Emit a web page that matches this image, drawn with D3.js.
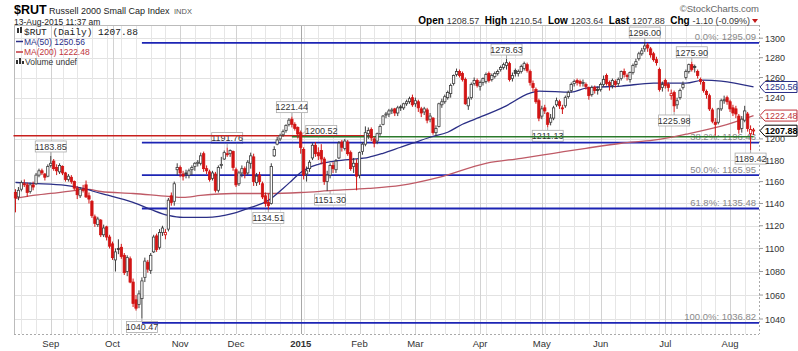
<!DOCTYPE html>
<head>
  <meta charset="utf-8">
  <script src="https://cdn.jsdelivr.net/npm/d3@7"></script>
  <style>
    body { margin: 0; background: #fff; font-family: Arial, "Liberation Sans", sans-serif; }
    svg { display: block; }
    .grid line { shape-rendering: crispEdges; }
  </style>
</head>
<body>
<div id="chart"></div>
<script>

// trading calendar
var firstDay = "2014-08-14", lastDay = "2015-08-13";
var holidays = ["2014-09-01","2014-11-27","2014-12-25","2015-01-01","2015-01-19",
                "2015-02-16","2015-04-03","2015-05-25","2015-07-03"];

// daily candles, one line per month (Aug 14 2014 .. Aug 13 2015)
var opens = [
  1150,1146,1153,1158,1157,1151,1157,1158,1166,1170,1167,1165,
  1175,1179,1173,1169,1174,1168,1162,1164,1160,1154,1147,1153,1157,1147,1142,1128,1121,1125,1112,1119,1110,
  1104,1090,1100,1101,1094,1080,1091,1071,1056,1052,1057,1075,1088,1081,1097,1111,1101,1114,1112,1117,1147,1142,1171,
  1173,1167,1168,1166,1171,1174,1177,1177,1186,1172,1169,1163,1167,1152,1175,1181,1186,1186,1188,
  1171,1158,1168,1172,1168,1177,1183,1159,1166,1158,1147,1141,1140,1184,1195,1200,1204,1208,1214,1219,1214,1211,
  1206,1190,1167,1172,1182,1194,1187,1189,1181,1160,1166,1175,1171,1182,1197,1191,1197,1187,1174,1177,
  1166,1188,1195,1205,1209,1200,1198,1205,1214,1223,1224,1227,1229,1225,1231,1230,1234,1236,1240,
  1234,1236,1229,1226,1228,1219,1220,1206,1212,1233,1236,1240,1244,1254,1263,1266,1264,1258,1232,1240,1254,1257,
  1251,1255,1256,1264,1258,1261,1264,1268,1270,1272,1274,1259,1267,1264,1266,1269,1273,1266,1254,1248,1237,
  1222,1230,1225,1216,1220,1233,1236,1230,1232,1241,1247,1254,1257,1256,1254,1253,1250,1243,1250,1248,
  1248,1253,1262,1255,1252,1256,1254,1259,1266,1262,1258,1265,1273,1279,1284,1289,1293,1289,1284,1278,1268,1250,
  1257,1253,1242,1245,1233,1240,1250,1260,1266,1273,1271,1266,1258,1255,1246,1242,1228,1216,1216,1229,1237,1240,
  1236,1230,1229,1222,1210,1218,1224,1205,1208.57
];
var highs = [
  1153,1155,1161,1162,1159,1159,1160,1168,1172,1172,1168,1176,
  1183.85,1181,1176,1177,1175,1169,1167,1166,1161,1156,1155,1157,1161,1150,1143,1130,1128,1126,1121,1120,1112,
  1106,1100,1108,1104,1096,1094,1093,1074,1060,1064,1075,1092,1090,1096,1112,1113,1117,1120,1117,1145,1150,1160,1177,
  1175,1170,1171,1172,1175,1178,1180,1187,1188,1175,1171,1170,1169,1175,1183,1189,1191.76,1190,1189,
  1173,1170,1175,1174,1180,1187,1186,1168,1169,1160,1150,1149,1177,1193,1202,1205,1209,1214,1220,1221.44,1216,1212,
  1208,1192,1174,1180,1196,1197,1192,1195,1183,1170,1177,1178,1181,1198,1199,1200,1199,1189,1182,1181,
  1188,1197,1212,1211,1211,1202,1206,1214,1223,1226,1229,1230,1230,1232,1233,1235,1238,1241,1243,
  1240,1238,1231,1231,1230,1225,1221,1213,1235,1239,1243,1247,1254,1263,1269,1268,1266,1260,1241,1255,1260,1259,
  1257,1260,1265,1266,1264,1266,1268,1272,1275,1278.63,1276,1265,1269,1268,1273,1276,1275,1268,1257,1250,1239,
  1232,1233,1226,1224,1232,1240,1238,1233,1242,1247,1255,1258,1259,1258,1258,1255,1251,1252,1252,1251,
  1255,1262,1264,1257,1259,1258,1260,1267,1269,1264,1266,1274,1279,1286,1290,1296,1295,1291,1286,1281,1270,1256,
  1259,1255,1248,1247,1240,1249,1256,1268,1274,1275.9,1273,1268,1260,1257,1248,1244,1230,1220,1230,1239,1242,1242,
  1238,1233,1232,1224,1222,1232,1226,1213,1210.54
];
var lows = [
  1132,1143,1151,1155,1146,1149,1152,1157,1164,1166,1161,1164,
  1173,1170,1166,1167,1166,1160,1160,1158,1152,1144,1145,1150,1145,1140,1127,1119,1119,1110,1110,1107,1100,
  1090,1080,1095,1091,1077,1076,1070,1050,1047,1049,1040.47,1071,1079,1078,1096,1097,1099,1111,1108,1115,1138,1138,1166,
  1164,1161,1163,1163,1166,1170,1174,1175,1169,1167,1160,1161,1150,1150,1172,1180,1183,1183,1170,
  1155,1156,1164,1163,1166,1172,1156,1156,1157,1144,1137,1134.51,1139,1183,1194,1198,1202,1206,1212,1211,1208,1200.52,
  1186,1162,1160,1169,1180,1183,1180,1176,1157,1151.3,1163,1168,1168,1181,1188,1189,1184,1170,1168,1152,
  1163,1185,1193,1200,1198,1192,1195,1203,1213,1220,1221,1224,1222,1222,1227,1228,1232,1234,1231,
  1231,1226,1221,1223,1215,1216,1204,1203,1211,1230,1234,1238,1240,1252,1261,1260,1256,1233,1228,1238,1252,1250,
  1247,1252,1254,1255,1256,1259,1262,1266,1268,1268,1256,1256,1261,1261,1264,1267,1265,1252,1246,1234,1217,
  1219,1224,1211.13,1213,1218,1231,1229,1224,1230,1239,1245,1251,1252,1251,1251,1248,1238,1241,1244,1243,
  1246,1251,1252,1247,1249,1250,1251,1257,1260,1257,1255,1263,1270,1277,1282,1286,1286,1280,1276,1272,1246,1246,
  1249,1246,1238,1225.98,1229,1238,1248,1258,1264,1266,1265,1259,1253,1245,1239,1227,1215,1203,1214,1227,1234,1233,
  1226,1222,1220,1205,1206,1216,1207,1189.42,1203.64
];
var closes = [
  1145,1152,1159,1158,1150,1157,1155,1166,1170,1168,1164,1174,
  1177,1172,1170,1175,1168,1162,1165,1160,1154,1148,1153,1152,1146,1144,1129,1122,1126,1112,1118,1110,1102,
  1092,1097,1099,1093,1079,1092,1071,1053,1049,1061,1072,1089,1082,1094,1110,1099,1114,1118,1114,1143,1141,1158,1173,
  1168,1165,1167,1170,1173,1177,1178,1184,1172,1170,1162,1168,1152,1173,1176,1187,1185,1189,1173,
  1157,1168,1172,1167,1178,1184,1160,1165,1160,1146,1140,1138,1174,1190,1199,1203,1207,1213,1218,1214,1210,1204.7,
  1192,1166,1170,1178,1194,1186,1184,1181,1160,1166,1175,1172,1179,1196,1192,1198,1186,1172,1177,1165,
  1187,1195,1206,1208,1201,1196,1205,1212,1222,1224,1227,1228,1225,1230,1230,1234,1236,1239,1233,
  1237,1230,1225,1229,1218,1222,1206,1210,1234,1236,1241,1245,1252,1262,1266,1262,1258,1234,1239,1253,1257,1252,
  1255,1259,1263,1257,1262,1264,1266,1270,1273,1275,1258,1262,1264,1266,1271,1274,1267,1255,1250,1236,1220,
  1229,1227,1214,1220,1230,1237,1232,1229,1240,1245,1253,1256,1255,1254,1255,1251,1242,1250,1247,1247,
  1253,1258,1254,1252,1257,1253,1258,1266,1263,1261,1265,1272,1276,1284,1287,1292,1290,1283,1278,1275,1248,1253,
  1252,1250,1244,1232,1237,1247,1253,1266,1273,1268,1270,1262,1256,1247,1243,1229,1217,1214,1229,1237,1238,1236,
  1229,1225,1224,1209,1219,1227,1210,1208.98,1207.88
];

// moving averages
var ma50 = [
  ["2014-08-14",1159.2],["2014-08-22",1158.3],["2014-09-09",1156.5],["2014-09-17",1153.7],
  ["2014-09-25",1149.1],["2014-09-30",1147.1],["2014-10-10",1141.0],["2014-10-20",1134.6],
  ["2014-10-28",1129.2],["2014-11-04",1127.4],["2014-11-14",1127.4],["2014-11-28",1131.0],
  ["2014-12-08",1136.4],["2014-12-16",1142.8],["2014-12-23",1153.7],["2014-12-29",1161.0],
  ["2015-01-02",1168.5],["2015-01-12",1176.0],["2015-01-20",1178.8],["2015-01-28",1180.7],
  ["2015-02-05",1182.6],["2015-02-12",1186.4],["2015-02-23",1192.1],["2015-02-27",1195.9],
  ["2015-03-09",1201.6],["2015-03-17",1206.4],["2015-03-24",1214.1],["2015-04-01",1220.9],
  ["2015-04-14",1230.7],["2015-04-27",1244.5],["2015-04-30",1246.5],["2015-05-15",1245.5],
  ["2015-05-22",1249.5],["2015-06-10",1251.5],["2015-06-25",1254.4],["2015-07-13",1254.4],
  ["2015-07-21",1257.4],["2015-07-29",1256.4],["2015-08-13",1250.56]
];
var ma200 = [
  ["2014-08-14",1144.6],["2014-08-22",1147.3],["2014-09-02",1149.1],["2014-09-15",1151.9],
  ["2014-09-19",1152.8],["2014-09-25",1150.9],["2014-10-10",1149.1],["2014-10-28",1146.4],
  ["2014-11-04",1145.5],["2014-11-12",1147.3],["2014-11-28",1149.1],["2014-12-16",1149.1],
  ["2015-01-02",1150.0],["2015-01-20",1151.9],["2015-02-05",1153.7],["2015-02-23",1156.5],
  ["2015-03-12",1163.9],["2015-04-06",1177.0],["2015-04-22",1181.7],["2015-05-07",1186.4],
  ["2015-05-22",1191.1],["2015-06-10",1195.9],["2015-06-25",1198.8],["2015-07-13",1204.5],
  ["2015-07-29",1212.2],["2015-08-13",1222.48]
];

// fibonacci retracement from the Oct low
var fibPcts = ["0.0", "38.2", "50.0", "61.8", "100.0"];
var fibValues = [1295.09, 1196.43, 1165.95, 1135.48, 1036.82];
var fibStart = "2014-10-15";

// hand drawn lines
var redLevel = 1203, redFrom = "2014-08-14", redTo = "2015-02-06";
var greenLevel = 1202, greenFrom = "2014-12-29", greenTo = "2015-08-13";

// price callouts
var callouts = [
  ["2014-09-02",1183.85,"high"],["2014-10-15",1040.47,"low"],["2014-11-25",1191.76,"high"],
  ["2014-12-16",1134.51,"low"],["2014-12-29",1221.44,"high"],["2014-12-31",1200.52,"side"],
  ["2015-01-16",1151.30,"low"],["2015-04-15",1278.63,"high"],["2015-05-05",1211.13,"low"],
  ["2015-06-22",1296.00,"high"],["2015-07-07",1225.98,"low"],["2015-07-15",1275.90,"high"],
  ["2015-08-12",1189.42,"low"]
];

var yTicks = [1040,1060,1080,1100,1120,1140,1160,1180,1200,1220,1240,1260,1280,1300];
var monthLabels = ["Sep","Oct","Nov","Dec","2015","Feb","Mar","Apr","May","Jun","Jul","Aug"];

var quote = [["Open","1208.57"],["High","1210.54"],["Low","1203.64"],["Last","1207.88"],["Chg","-1.10 (-0.09%)"]];

// ---------------------------------------------------------------

var parse = d3.timeParse("%Y-%m-%d"), fmt = d3.timeFormat("%Y-%m-%d");
var dates = [];
for (var d = parse(firstDay); d <= parse(lastDay); d = d3.timeDay.offset(d, 1)) {
  if (d.getDay() == 0 || d.getDay() == 6) continue;
  if (holidays.indexOf(fmt(d)) >= 0) continue;
  dates.push(fmt(d));
}

var bars = dates.map(function(dt, i) {
  return {date: dt, o: opens[i], h: highs[i], l: lows[i], c: closes[i],
          prev: i > 0 ? closes[i-1] : opens[i]};
});

var width = 798, height = 351;
var plot = {left: 14, right: 759, top: 25, bottom: 334};

var svg = d3.select("#chart").append("svg")
    .attr("width", width)
    .attr("height", height);

var x = d3.scaleBand().domain(dates).range([14, 755]);
var cx = function(dt) { return x(dt) + x.bandwidth() / 2; };
var y = d3.scaleLog().domain([1027.7, 1313.7]).range([plot.bottom, plot.top]);

// grid
var grid = svg.append("g").attr("class", "grid");
grid.selectAll(".hg")
    .data(yTicks)
  .enter().append("line")
    .attr("x1", plot.left).attr("x2", plot.right)
    .attr("y1", function(v) { return Math.round(y(v)) + 0.5; })
    .attr("y2", function(v) { return Math.round(y(v)) + 0.5; })
    .style("stroke", "#e2e2e2");

var vlines = [];
dates.forEach(function(dt, i) {
  if (i == 0) return;
  var a = parse(dates[i-1]), b = parse(dt);
  var kind = null;
  if (b.getFullYear() != a.getFullYear()) kind = "year";
  else if (b.getMonth() != a.getMonth()) kind = "month";
  else if (b.getDay() < a.getDay()) kind = "week";
  if (kind) vlines.push({date: dt, kind: kind});
});
grid.selectAll(".vg")
    .data(vlines)
  .enter().append("line")
    .attr("x1", function(v) { return Math.round(cx(v.date)) + 0.5; })
    .attr("x2", function(v) { return Math.round(cx(v.date)) + 0.5; })
    .attr("y1", plot.top).attr("y2", plot.bottom)
    .style("stroke", function(v) { return v.kind == "year" ? "#a8a8a8" : v.kind == "month" ? "#d2d2d2" : "#e6e6e6"; });

// frame
svg.append("line").attr("x1", plot.left + 0.5).attr("x2", plot.left + 0.5)
    .attr("y1", plot.top).attr("y2", plot.bottom).style("stroke", "#bbb");
svg.append("line").attr("x1", plot.left).attr("x2", plot.right)
    .attr("y1", plot.top + 0.5).attr("y2", plot.top + 0.5).style("stroke", "#bbb");
svg.append("line").attr("x1", plot.right + 0.5).attr("x2", plot.right + 0.5)
    .attr("y1", plot.top).attr("y2", plot.bottom).style("stroke", "#aaa").style("stroke-dasharray", "2,2");
svg.append("line").attr("x1", plot.left).attr("x2", plot.right)
    .attr("y1", plot.bottom + 0.5).attr("y2", plot.bottom + 0.5).style("stroke", "#aaa").style("stroke-dasharray", "2,2");

// fib labels
svg.selectAll(".fibText")
    .data(fibValues)
  .enter().append("text")
    .attr("x", 756)
    .attr("y", function(v) { return y(v) - 2.5; })
    .attr("text-anchor", "end")
    .style("font-size", "9.5px")
    .style("fill", "#8a8a8a")
    .text(function(v, i) { return fibPcts[i] + "%: " + v.toFixed(2); });

// callouts
var co = svg.append("g");
callouts.forEach(function(c) {
  var px = cx(c[0]), py = y(c[1]);
  var bw = 31, bh = 11, bx = px - bw / 2, by;
  if (c[2] == "high") by = py - 4 - bh;
  else if (c[2] == "low") by = py + 3;
  else { bx = px + 8; by = py - 13; }
  co.append("line")
      .attr("x1", px).attr("y1", py)
      .attr("x2", c[2] == "side" ? bx : px)
      .attr("y2", c[2] == "high" ? by + bh : c[2] == "low" ? by : by + bh / 2)
      .style("stroke", "#aaa");
  co.append("rect")
      .attr("x", bx).attr("y", by).attr("width", bw).attr("height", bh)
      .style("fill", "#fff").style("stroke", "#aaa").style("stroke-width", 0.8);
  co.append("text")
      .attr("x", bx + bw / 2).attr("y", by + 8.8)
      .attr("text-anchor", "middle")
      .style("font-size", "9px").style("fill", "#333")
      .text(c[1].toFixed(2));
});

// horizontal lines
svg.append("line")
    .attr("x1", cx(redFrom) - 2).attr("x2", cx(redTo))
    .attr("y1", y(redLevel)).attr("y2", y(redLevel))
    .style("stroke", "#c8201e").style("stroke-width", 1.5);
svg.append("line")
    .attr("x1", cx(greenFrom)).attr("x2", cx(greenTo))
    .attr("y1", y(greenLevel)).attr("y2", y(greenLevel))
    .style("stroke", "#2c7a2c").style("stroke-width", 1.5);
svg.selectAll(".fib")
    .data(fibValues)
  .enter().append("line")
    .attr("x1", cx(fibStart)).attr("x2", plot.right)
    .attr("y1", function(v) { return y(v); })
    .attr("y2", function(v) { return y(v); })
    .style("stroke", "#1c24b4").style("stroke-width", 1.8);

// moving averages
var maLine = d3.line()
    .x(function(p) { return cx(p[0]); })
    .y(function(p) { return y(p[1]); })
    .curve(d3.curveMonotoneX);
svg.append("path").datum(ma200).attr("d", maLine)
    .style("fill", "none").style("stroke", "#bf5a66").style("stroke-width", 1.3);
svg.append("path").datum(ma50).attr("d", maLine)
    .style("fill", "none").style("stroke", "#2b2f86").style("stroke-width", 1.3);

// candles
var bw = 2.3;
var candle = svg.selectAll(".candle")
    .data(bars)
  .enter().append("g").attr("class", "candle");
function candleColor(b) { return b.c >= b.prev ? "#3c3c3c" : "#d21414"; }
candle.append("line")
    .attr("x1", function(b) { return cx(b.date); })
    .attr("x2", function(b) { return cx(b.date); })
    .attr("y1", function(b) { return y(b.h); })
    .attr("y2", function(b) { return y(b.l); })
    .style("stroke", candleColor).style("stroke-width", 1);
candle.append("rect")
    .attr("x", function(b) { return cx(b.date) - bw / 2; })
    .attr("width", bw)
    .attr("y", function(b) { return y(Math.max(b.o, b.c)); })
    .attr("height", function(b) { return Math.max(1, Math.abs(y(b.o) - y(b.c))); })
    .style("fill", function(b, i) {
      if (i == bars.length - 1) return "#f0d040";
      return b.c > b.o ? "#fff" : candleColor(b);
    })
    .style("stroke", candleColor).style("stroke-width", 0.8);

// value tags at right
var tags = [
  {v: ma50[ma50.length - 1][1], col: "#2b2f86", bold: false},
  {v: ma200[ma200.length - 1][1], col: "#c0343c", bold: false},
  {v: closes[closes.length - 1], col: "#000", bold: true}
];

// right axis (labels that sit under a tag are left out)
var freeTicks = yTicks.filter(function(v) {
  return tags.every(function(t) { return Math.abs(y(v) - y(t.v)) > 7; });
});
var axis = svg.append("g");
axis.selectAll(".tk")
    .data(yTicks)
  .enter().append("line")
    .attr("x1", plot.right).attr("x2", plot.right + 4)
    .attr("y1", function(v) { return y(v); }).attr("y2", function(v) { return y(v); })
    .style("stroke", "#999");
axis.selectAll(".tl")
    .data(freeTicks)
  .enter().append("text")
    .attr("x", 765)
    .attr("y", function(v) { return y(v) + 3.5; })
    .style("font-size", "9px").style("fill", "#333")
    .text(function(v) { return v; });

tags.forEach(function(t) {
  var ty = y(t.v), x0 = 760, x1 = 797, hh = 5.5;
  svg.append("path")
      .attr("d", "M" + x0 + "," + ty + "L" + (x0 + 5) + "," + (ty - hh) + "L" + x1 + "," + (ty - hh) +
                 "L" + x1 + "," + (ty + hh) + "L" + (x0 + 5) + "," + (ty + hh) + "Z")
      .style("fill", "#fff").style("stroke", t.col).style("stroke-width", 1);
  svg.append("text")
      .attr("x", 765).attr("y", ty + 3.2)
      .style("font-size", "9px").style("font-weight", t.bold ? "bold" : "normal")
      .style("fill", t.col)
      .text(t.v.toFixed(2));
});

// month labels
var monthStarts = dates.filter(function(dt, i) {
  return i > 0 && parse(dt).getMonth() != parse(dates[i-1]).getMonth();
});
svg.selectAll(".ml")
    .data(monthStarts)
  .enter().append("text")
    .attr("x", function(dt) { return cx(dt); })
    .attr("y", 347)
    .attr("text-anchor", "middle")
    .style("font-size", "9.5px")
    .style("font-weight", function(dt, i) { return monthLabels[i] == "2015" ? "bold" : "normal"; })
    .style("fill", "#333")
    .text(function(dt, i) { return monthLabels[i]; });

// header
svg.append("text").attr("x", 14).attr("y", 14)
    .style("font-size", "12.5px").style("font-weight", "bold").text("$RUT");
svg.append("text").attr("x", 49).attr("y", 13.5)
    .style("font-size", "9px").style("fill", "#222").text("Russell 2000 Small Cap Index");
svg.append("text").attr("x", 174).attr("y", 13.5)
    .style("font-size", "7.5px").style("fill", "#555").text("INDX");
svg.append("text").attr("x", 14).attr("y", 24.5)
    .style("font-size", "8.5px").style("fill", "#222").text("13-Aug-2015 11:37 am");
svg.append("text").attr("x", 759).attr("y", 12).attr("text-anchor", "end")
    .style("font-size", "9.5px").style("fill", "#666").text("\u00a9StockCharts.com");

var q = svg.append("text").attr("x", 750).attr("y", 24).attr("text-anchor", "end");
quote.forEach(function(p, i) {
  q.append("tspan").style("font-size", "10px").style("font-weight", "bold")
      .text((i ? "  " : "") + p[0] + " ");
  q.append("tspan").style("font-size", "9px").style("fill", "#333").text(p[1]);
});
q.attr("xml:space", "preserve");
svg.append("path").attr("d", "M752,19L758,19L755,23Z").style("fill", "#c21818");

// legend
var lg = svg.append("g");
lg.append("rect").attr("x", 17).attr("y", 28).attr("width", 2).attr("height", 5).style("fill", "#333");
lg.append("rect").attr("x", 20).attr("y", 27).attr("width", 2).attr("height", 6).style("fill", "#333");
lg.append("text").attr("x", 24).attr("y", 35)
    .style("font-family", "'Liberation Mono', 'DejaVu Sans Mono', monospace")
    .style("font-size", "9.5px").style("fill", "#222").text("$RUT (Daily) 1207.88");
lg.append("line").attr("x1", 16).attr("x2", 23).attr("y1", 41.5).attr("y2", 41.5)
    .style("stroke", "#2b2f86").style("stroke-width", 1.5);
lg.append("text").attr("x", 24).attr("y", 44.5)
    .style("font-size", "8.5px").style("fill", "#2b2f86").text("MA(50) 1250.56");
lg.append("line").attr("x1", 16).attr("x2", 23).attr("y1", 52).attr("y2", 52)
    .style("stroke", "#c0343c").style("stroke-width", 1.5);
lg.append("text").attr("x", 24).attr("y", 55)
    .style("font-size", "8.5px").style("fill", "#c0343c").text("MA(200) 1222.48");
lg.append("rect").attr("x", 16).attr("y", 60).attr("width", 2).attr("height", 4).style("fill", "#333");
lg.append("rect").attr("x", 19).attr("y", 58).attr("width", 2).attr("height", 6).style("fill", "#333");
lg.append("rect").attr("x", 22).attr("y", 61).attr("width", 2).attr("height", 3).style("fill", "#333");
lg.append("text").attr("x", 25).attr("y", 64.5)
    .style("font-size", "8.5px").style("fill", "#333").text("Volume undef");

</script>
</body>
